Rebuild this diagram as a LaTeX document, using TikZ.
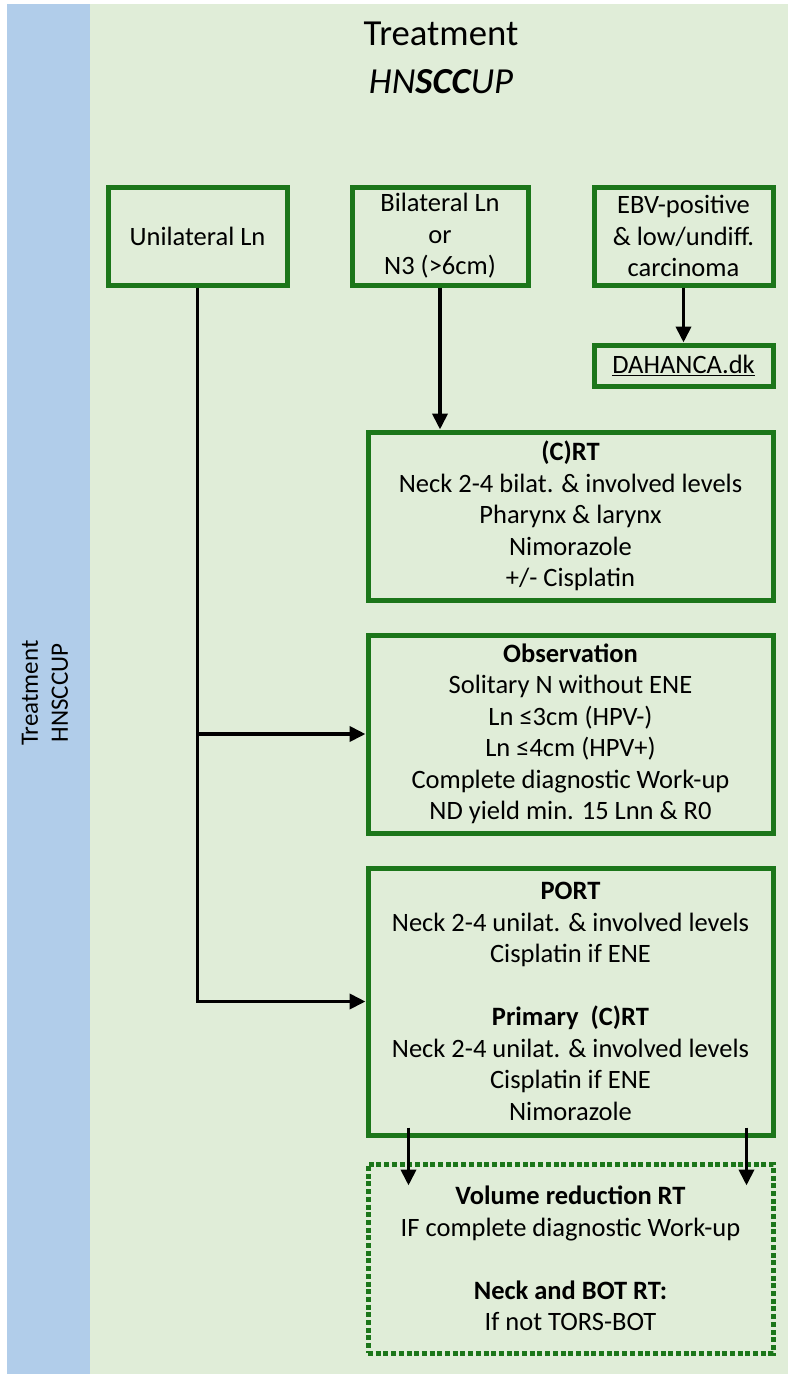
\documentclass[tikz,border=0pt]{standalone}
\usepackage{fontspec}
\setmainfont{Carlito}
\usetikzlibrary{arrows.meta,calc}
\definecolor{barblue}{RGB}{177,205,234}
\definecolor{panelgreen}{RGB}{224,237,216}
\definecolor{boxgreen}{RGB}{28,118,26}
\begin{document}
\begin{tikzpicture}[x=1pt,y=-1pt,
  box/.style={draw=boxgreen,line width=5pt,fill=panelgreen,align=center,
    inner sep=0pt,font=\fontsize{26.5}{31.5}\selectfont,text=black},
  dotbox/.style={box,dash pattern=on 5pt off 2.7pt},
  arr/.style={draw=black,line width=3.8pt,line join=miter,
    -{Triangle[length=16pt,width=15pt]}}]
\useasboundingbox (0,0) rectangle (788,1374);
% panels
\fill[white] (0,0) rectangle (788,1374);
\fill[barblue] (7,4) rectangle (90,1374);
\fill[panelgreen] (90,4) rectangle (788,1374);

% side label
\node[rotate=90,align=center,font=\fontsize{25}{30}\selectfont] (side) at (45,693)
  {Treatment\\HNSCCUP};

% heading
\node[anchor=base,font=\fontsize{36.7}{44}\selectfont] (title) at (441,45) {Treatment};
\node[anchor=base,font=\fontsize{36.7}{44}\selectfont\itshape] (sub) at (441,93)
  {HN\textbf{SCC}UP};

% top row
\node[box,minimum width=179pt,minimum height=98pt] (uni) at (197.5,236) {Unilateral Ln};
\node[box,minimum width=176pt,minimum height=98pt] (bil) at (440,236)
  {Bilateral Ln\\or\\N3 (>6cm)};
\node[box,minimum width=179pt,minimum height=98pt] (ebv) at (683.5,236)
  {EBV-positive\\\& low/undiff.\\carcinoma};
\node[box,minimum width=179pt,minimum height=41pt] (dah) at (683.5,365.5)
  {\underline{DAHANCA.dk}};

% treatment boxes
\node[box,minimum width=405pt,minimum height=168pt] (crt) at (570.5,516)
  {\textbf{(C)RT}\\Neck 2-4 bilat. \& involved levels\\Pharynx \& larynx\\Nimorazole\\+/- Cisplatin};
\node[box,minimum width=405pt,minimum height=198pt] (obs) at (570.5,734)
  {\textbf{Observation}\\Solitary N without ENE\\Ln ≤3cm (HPV-)\\Ln ≤4cm (HPV+)\\Complete diagnostic Work-up\\ND yield min. 15 Lnn \& R0};
\node[box,minimum width=405pt,minimum height=267pt] (port) at (570.5,1001.5)
  {\textbf{PORT}\\Neck 2-4 unilat. \& involved levels\\Cisplatin if ENE\\[31.5pt]
   \textbf{Primary\ \ (C)RT}\\Neck 2-4 unilat. \& involved levels\\Cisplatin if ENE\\Nimorazole};
\node[dotbox,minimum width=405pt,minimum height=189pt] (vol) at (570.5,1258.5)
  {\textbf{Volume reduction RT}\\IF complete diagnostic Work-up\\[31.5pt]
   \textbf{Neck and BOT RT:}\\If not TORS-BOT};

% connectors
\draw[arr] (uni.south) -- (uni.south |- port.west) -- (port.west);
\draw[arr] (uni.south |- obs.west) -- (obs.west);
\draw[arr] (bil.south) -- (bil.south |- crt.north);
\draw[arr] (ebv.south) -- (dah.north);
\coordinate (l0) at ($(port.south west)+(43,-10)$);
\coordinate (l1) at ($(vol.north west)+(43,24)$);
\coordinate (r0) at ($(port.south east)+(-29,-10)$);
\coordinate (r1) at ($(vol.north east)+(-29,24)$);
\draw[arr] (l0) -- (l1);
\draw[arr] (r0) -- (r1);
\end{tikzpicture}
\end{document}
